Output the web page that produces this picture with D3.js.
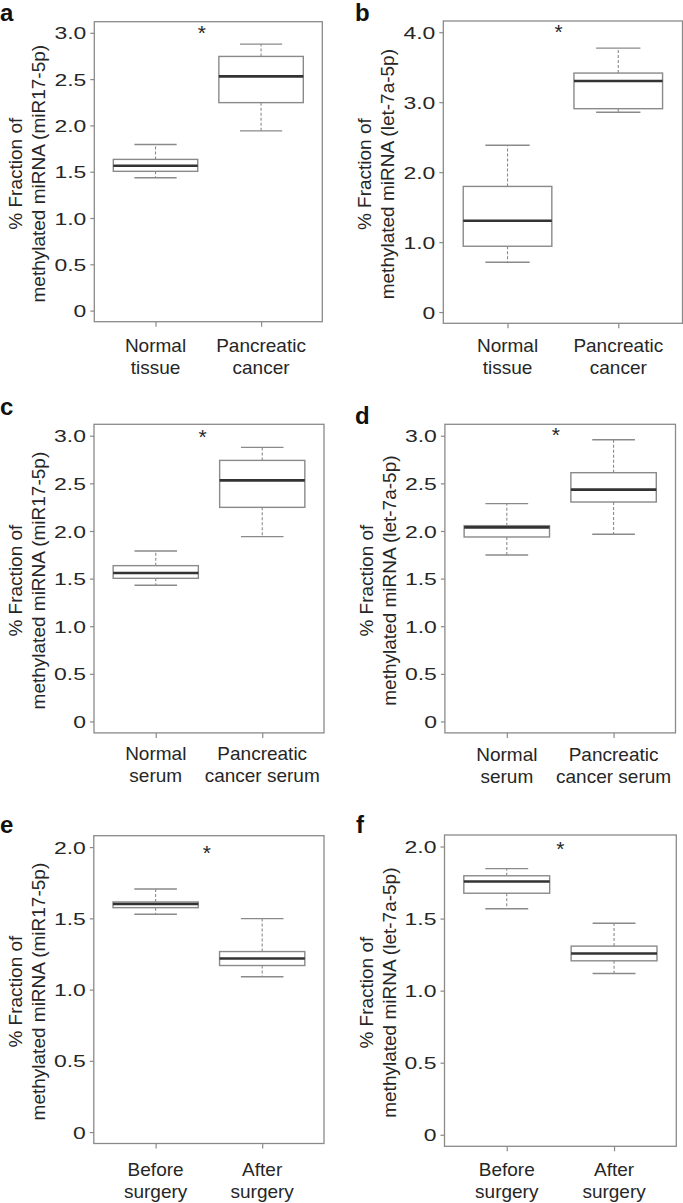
<!DOCTYPE html>
<html>

<head>
    <meta charset="UTF-8">
    <style>
        body { margin: 0; background: #fff; }
        svg { display: block; font-family: "Liberation Sans", Arial, sans-serif; }
    </style>
</head>

<body>
    <svg></svg>
    <script src="https://d3js.org/d3.v7.min.js"></script>

    <script>

        let width = 683, height = 1203;

        let svg = d3.select("svg")
            .attr("width", width)
            .attr("height", height)
            .attr("viewBox", "0 0 " + width + " " + height);

        // data
        const panelLetters = ["a", "b", "c", "d", "e", "f"];
        const yTitles = ["(miR17-5p)", "(let-7a-5p)", "(miR17-5p)", "(let-7a-5p)", "(miR17-5p)", "(let-7a-5p)"];
        const groupLabels = [
            [["Normal", "tissue"], ["Pancreatic", "cancer"]],
            [["Normal", "tissue"], ["Pancreatic", "cancer"]],
            [["Normal", "serum"], ["Pancreatic", "cancer serum"]],
            [["Normal", "serum"], ["Pancreatic", "cancer serum"]],
            [["Before", "surgery"], ["After", "surgery"]],
            [["Before", "surgery"], ["After", "surgery"]]
        ];
        const yMax = [3, 4, 3, 3, 2, 2];
        const yStep = [0.5, 1, 0.5, 0.5, 0.5, 0.5];

        const whiskerLow = [[1.435, 1.941], [0.713, 2.855], [1.430, 1.941], [1.748, 1.965], [1.529, 1.090], [1.568, 1.119]];
        const q1 = [[1.504, 2.246], [0.941, 2.907], [1.503, 2.248], [1.937, 2.304], [1.575, 1.169], [1.676, 1.207]];
        const median = [[1.565, 2.530], [1.306, 3.302], [1.559, 2.531], [2.038, 2.434], [1.601, 1.218], [1.757, 1.258]];
        const q3 = [[1.633, 2.745], [1.796, 3.416], [1.636, 2.741], [2.056, 2.612], [1.615, 1.267], [1.797, 1.309]];
        const whiskerHigh = [[1.794, 2.878], [2.385, 3.772], [1.790, 2.878], [2.287, 2.958], [1.706, 1.498], [1.847, 1.468]];

        // significance star position (x index, y value)
        const starX = [1.44, 1.46, 1.44, 1.46, 1.48, 1.50];
        const starY = [3.04, 4.06, 3.03, 3.05, 1.99, 2.01];

        // layout of each plot frame
        const frames = [
            { l: 94.3, r: 322.3, t: 21.7, b: 321.7, lx: 0, ly: 21, xl: 30 },
            { l: 443.3, r: 682.5, t: 21, b: 323.3, lx: 355, ly: 21, xl: 29 },
            { l: 94, r: 324, t: 424.3, b: 732.9, lx: 0, ly: 415, xl: 27.5 },
            { l: 444.9, r: 675.5, t: 424.3, b: 732.9, lx: 355, ly: 424, xl: 28 },
            { l: 93.8, r: 324, t: 835.7, b: 1143.5, lx: 0, ly: 833, xl: 32 },
            { l: 444.5, r: 676.3, t: 835, b: 1146.3, lx: 356, ly: 833, xl: 30 }
        ];

        const textCol = "#262626", grey = "#8a8a8a", dark = "#333";

        frames.forEach((f, i) => {
            let g = svg.append("g");

            let x = d3.scaleLinear().domain([0.42, 2.58]).range([f.l, f.r]);
            let y = d3.scaleLinear().domain([-0.04 * yMax[i], 1.04 * yMax[i]]).range([f.b, f.t]);
            let bw = x(1.4) - x(1);

            // y axis
            let ticks = d3.range(0, yMax[i] + 0.001, yStep[i]);
            let yAxis = g.append("g")
                .attr("transform", "translate(" + f.l + ",0)")
                .call(d3.axisLeft(y).tickValues(ticks).tickSize(4).tickSizeOuter(0)
                    .tickFormat(d => d == 0 ? "0" : d.toFixed(1)));
            yAxis.select(".domain").remove();
            yAxis.selectAll("line").attr("stroke", grey).attr("stroke-width", 1.2);
            yAxis.selectAll("text")
                .attr("x", null).attr("dy", "0.36em")
                .attr("text-anchor", "end")
                .attr("transform", "translate(-8,0) scale(1.35,1)")
                .style("font-size", "17px")
                .attr("fill", textCol);

            // x axis
            let xAxis = g.append("g")
                .attr("transform", "translate(0," + f.b + ")")
                .call(d3.axisBottom(x).tickValues([1, 2]).tickSize(5).tickSizeOuter(0).tickFormat(""));
            xAxis.select(".domain").remove();
            xAxis.selectAll("line").attr("stroke", grey).attr("stroke-width", 1.2);

            groupLabels[i].forEach((lines, k) => {
                let t = g.append("text")
                    .attr("x", x(k + 1))
                    .attr("y", f.b + f.xl)
                    .attr("text-anchor", "middle")
                    .attr("fill", textCol)
                    .style("font-size", "19px");
                lines.forEach((s, j) => {
                    t.append("tspan").attr("x", x(k + 1)).attr("dy", j == 0 ? 0 : 22).text(s);
                });
            });

            // y title
            let cy = (f.t + f.b) / 2 + 2;
            let tt = g.append("text")
                .attr("transform", "translate(" + (f.l - 72) + "," + cy + ") rotate(-90)")
                .attr("text-anchor", "middle")
                .attr("fill", textCol)
                .style("font-size", "19px");
            tt.append("tspan").attr("x", 0).attr("y", 0).text("% Fraction of");
            tt.append("tspan").attr("x", 0).attr("y", 23).text("methylated miRNA " + yTitles[i]);

            // boxes
            [0, 1].forEach(k => {
                let cx = x(k + 1);
                // whiskers
                g.append("line")
                    .attr("x1", cx).attr("x2", cx)
                    .attr("y1", y(q3[i][k])).attr("y2", y(whiskerHigh[i][k]))
                    .attr("stroke", grey).attr("stroke-width", 1.1).attr("stroke-dasharray", "3,2");
                g.append("line")
                    .attr("x1", cx).attr("x2", cx)
                    .attr("y1", y(q1[i][k])).attr("y2", y(whiskerLow[i][k]))
                    .attr("stroke", grey).attr("stroke-width", 1.1).attr("stroke-dasharray", "3,2");
                [whiskerHigh[i][k], whiskerLow[i][k]].forEach(v => {
                    g.append("line")
                        .attr("x1", cx - bw / 2).attr("x2", cx + bw / 2)
                        .attr("y1", y(v)).attr("y2", y(v))
                        .attr("stroke", grey).attr("stroke-width", 1.4);
                });
                g.append("rect")
                    .attr("x", cx - bw).attr("width", 2 * bw)
                    .attr("y", y(q3[i][k])).attr("height", y(q1[i][k]) - y(q3[i][k]))
                    .attr("fill", "white").attr("stroke", grey).attr("stroke-width", 1.4);
                g.append("line")
                    .attr("x1", cx - bw).attr("x2", cx + bw)
                    .attr("y1", y(median[i][k])).attr("y2", y(median[i][k]))
                    .attr("stroke", dark).attr("stroke-width", 2.6);
            });

            // frame
            g.append("rect")
                .attr("x", f.l).attr("y", f.t)
                .attr("width", f.r - f.l).attr("height", f.b - f.t)
                .attr("fill", "none").attr("stroke", grey).attr("stroke-width", 1.3);

            // star
            g.append("text")
                .attr("x", x(starX[i])).attr("y", y(starY[i]) + 11)
                .attr("text-anchor", "middle")
                .attr("fill", textCol)
                .style("font-size", "21px")
                .text("*");

            // panel letter
            g.append("text")
                .attr("x", f.lx).attr("y", f.ly)
                .attr("fill", "#111")
                .style("font-size", "24px").style("font-weight", "bold")
                .text(panelLetters[i]);
        });

    </script>

</body>

</html>
